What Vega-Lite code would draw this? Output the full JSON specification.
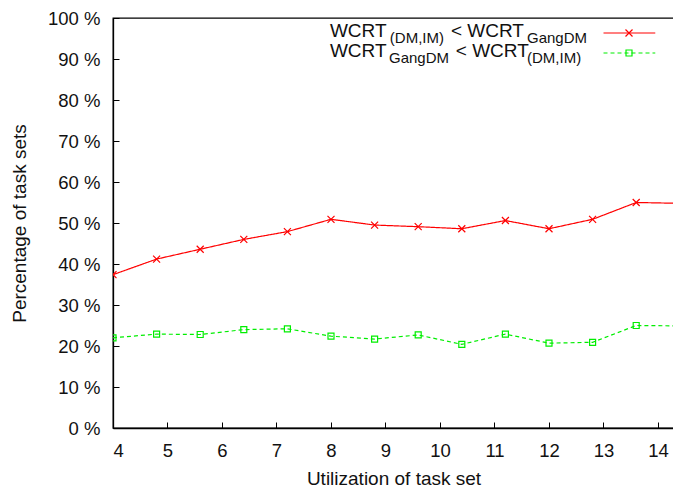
{
  "$schema": "https://vega.github.io/schema/vega-lite/v6.json",
  "width": 561,
  "height": 410,
  "autosize": "none",
  "padding": {"left": 113, "top": 18, "right": 0, "bottom": 63},
  "background": "white",
  "config": {
    "view": {"stroke": "#000", "strokeWidth": 1.3},
    "axis": {
      "labelFont": "Liberation Sans",
      "titleFont": "Liberation Sans",
      "labelFontSize": 18.5,
      "titleFontSize": 19,
      "titleFontWeight": "normal",
      "labelColor": "#111",
      "titleColor": "#111",
      "domainColor": "#000",
      "domainWidth": 1.3,
      "tickColor": "#000",
      "tickWidth": 1,
      "grid": false
    }
  },
  "datasets": {
    "series": [
      {"u": 4.0, "pct": 37.4, "s": "A"},
      {"u": 4.8, "pct": 41.2, "s": "A"},
      {"u": 5.6, "pct": 43.6, "s": "A"},
      {"u": 6.4, "pct": 46.0, "s": "A"},
      {"u": 7.2, "pct": 47.9, "s": "A"},
      {"u": 8.0, "pct": 50.9, "s": "A"},
      {"u": 8.8, "pct": 49.5, "s": "A"},
      {"u": 9.6, "pct": 49.1, "s": "A"},
      {"u": 10.4, "pct": 48.6, "s": "A"},
      {"u": 11.2, "pct": 50.6, "s": "A"},
      {"u": 12.0, "pct": 48.6, "s": "A"},
      {"u": 12.8, "pct": 50.9, "s": "A"},
      {"u": 13.6, "pct": 55.0, "s": "A"},
      {"u": 14.4, "pct": 54.8, "s": "A"},
      {"u": 4.0, "pct": 22.0, "s": "B"},
      {"u": 4.8, "pct": 22.9, "s": "B"},
      {"u": 5.6, "pct": 22.8, "s": "B"},
      {"u": 6.4, "pct": 24.0, "s": "B"},
      {"u": 7.2, "pct": 24.2, "s": "B"},
      {"u": 8.0, "pct": 22.4, "s": "B"},
      {"u": 8.8, "pct": 21.7, "s": "B"},
      {"u": 9.6, "pct": 22.7, "s": "B"},
      {"u": 10.4, "pct": 20.4, "s": "B"},
      {"u": 11.2, "pct": 22.9, "s": "B"},
      {"u": 12.0, "pct": 20.7, "s": "B"},
      {"u": 12.8, "pct": 20.9, "s": "B"},
      {"u": 13.6, "pct": 25.0, "s": "B"},
      {"u": 14.4, "pct": 24.9, "s": "B"}
    ],
    "one": [{}]
  },
  "layer": [
    {
      "data": {"name": "series"},
      "mark": {"type": "line", "clip": true, "strokeWidth": 1.2},
      "encoding": {
        "x": {
          "field": "u", "type": "quantitative",
          "scale": {"domain": [4, 14.2936], "nice": false, "zero": false},
          "axis": {
            "orient": "bottom",
            "title": "Utilization of task set",
            "values": [4, 4.5, 5, 5.5, 6, 6.5, 7, 7.5, 8, 8.5, 9, 9.5, 10, 10.5, 11, 11.5, 12, 12.5, 13, 13.5, 14],
            "labelExpr": "datum.value % 1 === 0 ? datum.value : ''",
            "tickSize": {"condition": {"test": "datum.value % 1 === 0", "value": -6}, "value": -3},
            "labelPadding": 19,
            "titlePadding": 10
          }
        },
        "y": {
          "field": "pct", "type": "quantitative",
          "scale": {"domain": [0, 100], "nice": false},
          "axis": {
            "title": "Percentage of task sets",
            "values": [0, 5, 10, 15, 20, 25, 30, 35, 40, 45, 50, 55, 60, 65, 70, 75, 80, 85, 90, 95, 100],
            "labelExpr": "datum.value % 10 === 0 ? datum.value + ' %' : ''",
            "tickSize": {"condition": {"test": "datum.value % 10 === 0", "value": -6}, "value": -3},
            "labelPadding": 19,
            "titlePadding": 18
          }
        },
        "color": {"field": "s", "type": "nominal", "scale": {"domain": ["A", "B"], "range": ["#ff0000", "#00ee00"]}, "legend": null},
        "strokeDash": {"field": "s", "type": "nominal", "scale": {"domain": ["A", "B"], "range": [[1, 0], [4, 3]]}, "legend": null}
      }
    },
    {
      "data": {"name": "series"},
      "mark": {"type": "point", "clip": true, "filled": false, "strokeWidth": 1.2, "opacity": 1},
      "encoding": {
        "x": {"field": "u", "type": "quantitative"},
        "y": {"field": "pct", "type": "quantitative"},
        "color": {"field": "s", "type": "nominal", "scale": {"domain": ["A", "B"], "range": ["#ff0000", "#00ee00"]}, "legend": null},
        "shape": {"field": "s", "type": "nominal", "scale": {"domain": ["A", "B"], "range": ["M-1,-1L1,1M-1,1L1,-1", "square"]}, "legend": null},
        "size": {"field": "s", "type": "nominal", "scale": {"domain": ["A", "B"], "range": [49, 36]}, "legend": null}
      }
    },
    {
      "data": {"name": "one"},
      "mark": {"type": "text", "font": "Liberation Sans", "fontSize": 19, "align": "left", "baseline": "alphabetic", "color": "#111"},
      "encoding": {"x": {"datum": 7.98, "type": "quantitative"}, "y": {"datum": 95.37, "type": "quantitative"}, "text": {"value": "WCRT"}}
    },
    {
      "data": {"name": "one"},
      "mark": {"type": "text", "font": "Liberation Sans", "fontSize": 15, "align": "left", "baseline": "alphabetic", "color": "#111"},
      "encoding": {"x": {"datum": 9.08, "type": "quantitative"}, "y": {"datum": 93.9, "type": "quantitative"}, "text": {"value": "(DM,IM)"}}
    },
    {
      "data": {"name": "one"},
      "mark": {"type": "text", "font": "Liberation Sans", "fontSize": 19, "align": "left", "baseline": "alphabetic", "color": "#111"},
      "encoding": {"x": {"datum": 10.2, "type": "quantitative"}, "y": {"datum": 95.37, "type": "quantitative"}, "text": {"value": "< WCRT"}}
    },
    {
      "data": {"name": "one"},
      "mark": {"type": "text", "font": "Liberation Sans", "fontSize": 15, "align": "left", "baseline": "alphabetic", "color": "#111"},
      "encoding": {"x": {"datum": 11.596, "type": "quantitative"}, "y": {"datum": 93.9, "type": "quantitative"}, "text": {"value": "GangDM"}}
    },
    {
      "data": {"name": "one"},
      "mark": {"type": "text", "font": "Liberation Sans", "fontSize": 19, "align": "left", "baseline": "alphabetic", "color": "#111"},
      "encoding": {"x": {"datum": 7.98, "type": "quantitative"}, "y": {"datum": 90.49, "type": "quantitative"}, "text": {"value": "WCRT"}}
    },
    {
      "data": {"name": "one"},
      "mark": {"type": "text", "font": "Liberation Sans", "fontSize": 15, "align": "left", "baseline": "alphabetic", "color": "#111"},
      "encoding": {"x": {"datum": 9.064, "type": "quantitative"}, "y": {"datum": 89.02, "type": "quantitative"}, "text": {"value": "GangDM"}}
    },
    {
      "data": {"name": "one"},
      "mark": {"type": "text", "font": "Liberation Sans", "fontSize": 19, "align": "left", "baseline": "alphabetic", "color": "#111"},
      "encoding": {"x": {"datum": 10.29, "type": "quantitative"}, "y": {"datum": 90.49, "type": "quantitative"}, "text": {"value": "< WCRT"}}
    },
    {
      "data": {"name": "one"},
      "mark": {"type": "text", "font": "Liberation Sans", "fontSize": 15, "align": "left", "baseline": "alphabetic", "color": "#111"},
      "encoding": {"x": {"datum": 11.596, "type": "quantitative"}, "y": {"datum": 89.02, "type": "quantitative"}, "text": {"value": "(DM,IM)"}}
    },
    {
      "data": {"name": "one"},
      "mark": {"type": "rule", "color": "#ff0000", "strokeWidth": 1.2},
      "encoding": {"x": {"datum": 13.0, "type": "quantitative"}, "x2": {"datum": 13.95}, "y": {"datum": 96.34, "type": "quantitative"}}
    },
    {
      "data": {"name": "one"},
      "mark": {"type": "point", "shape": "M-1,-1L1,1M-1,1L1,-1", "size": 49, "filled": false, "color": "#ff0000", "strokeWidth": 1.2, "opacity": 1},
      "encoding": {"x": {"datum": 13.468, "type": "quantitative"}, "y": {"datum": 96.34, "type": "quantitative"}}
    },
    {
      "data": {"name": "one"},
      "mark": {"type": "rule", "color": "#00ee00", "strokeWidth": 1.2, "strokeDash": [4, 3]},
      "encoding": {"x": {"datum": 13.0, "type": "quantitative"}, "x2": {"datum": 13.95}, "y": {"datum": 91.46, "type": "quantitative"}}
    },
    {
      "data": {"name": "one"},
      "mark": {"type": "point", "shape": "square", "size": 36, "filled": false, "color": "#00ee00", "strokeWidth": 1.2, "opacity": 1},
      "encoding": {"x": {"datum": 13.468, "type": "quantitative"}, "y": {"datum": 91.46, "type": "quantitative"}}
    }
  ]
}
